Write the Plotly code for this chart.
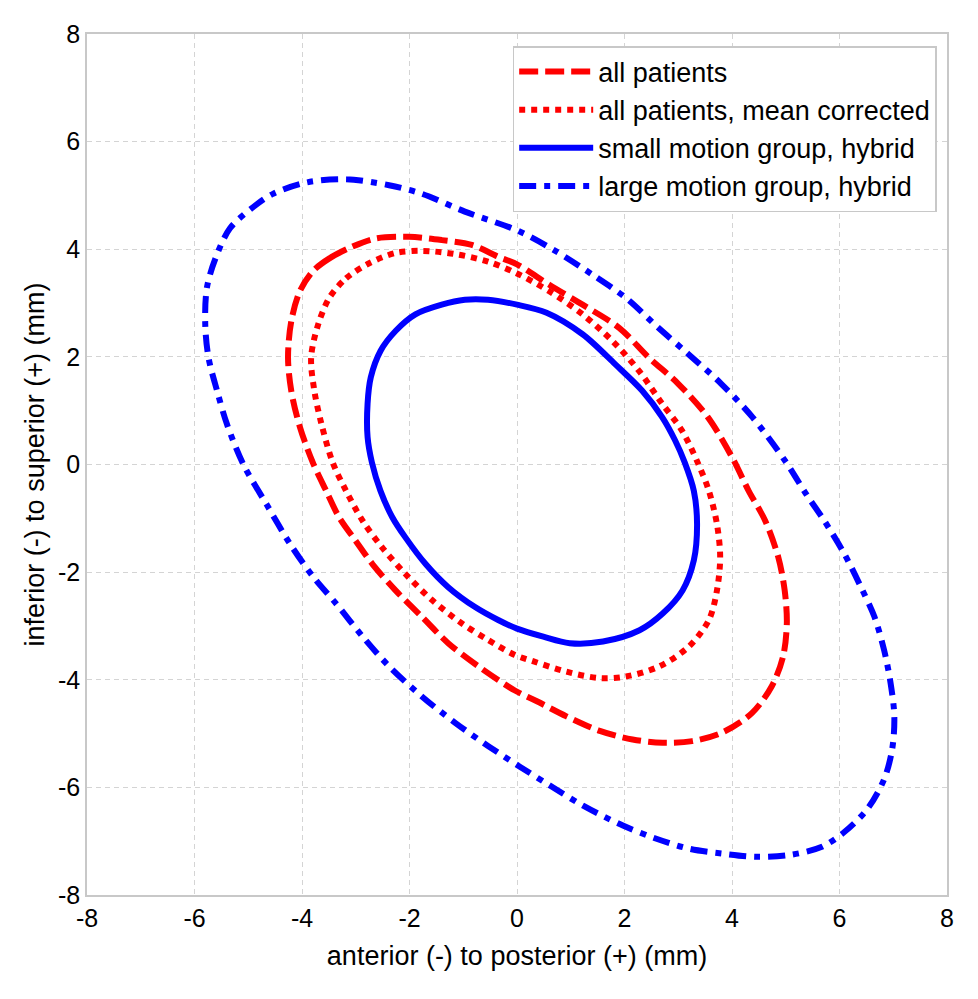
import plotly.graph_objects as go

# ---- data (mm) ----
all_x = [-3.80, -3.49, -3.06, -2.63, -2.01, -1.40, -0.84, -0.35, 0.00, 0.60, 1.22, 1.90, 2.45, 3.00, 3.55, 4.02,
         4.31, 4.62, 4.86, 4.98, 5.02, 4.95, 4.74, 4.37, 3.82, 3.26, 2.71, 2.15, 1.54, 0.92, 0.37, -0.04,
         -0.72, -1.28, -1.77, -2.26, -2.69, -3.00, -3.31, -3.55, -3.80, -4.04, -4.20, -4.26, -4.20, -4.04, -3.80]
all_y = [3.59, 3.83, 4.05, 4.20, 4.23, 4.17, 4.08, 3.86, 3.72, 3.34, 2.97, 2.54, 1.99, 1.50, 0.88, 0.10,
         -0.49, -1.05, -1.72, -2.34, -2.95, -3.57, -4.12, -4.62, -4.98, -5.14, -5.17, -5.11, -4.95, -4.68, -4.40, -4.20,
         -3.75, -3.32, -2.83, -2.34, -1.85, -1.42, -0.98, -0.49, 0.04, 0.70, 1.37, 1.99, 2.66, 3.22, 3.59]

mc_x = [-3.49, -3.18, -2.75, -2.26, -1.77, -1.15, -0.54, 0.00, 0.60, 1.22, 1.77, 2.27, 2.70, 3.07, 3.36,
        3.57, 3.72, 3.78, 3.72, 3.57, 3.20, 2.65, 2.03, 1.54, 0.92, 0.31, -0.04,
        -0.54, -1.03, -1.58, -2.08, -2.51, -2.87, -3.18, -3.43, -3.64, -3.77, -3.83, -3.70, -3.49]
mc_y = [3.10, 3.46, 3.74, 3.93, 3.97, 3.91, 3.77, 3.55, 3.22, 2.79, 2.30, 1.74, 1.13, 0.63, 0.04,
        -0.49, -1.11, -1.72, -2.34, -2.89, -3.38, -3.75, -3.94, -3.97, -3.85, -3.66, -3.54,
        -3.26, -2.95, -2.52, -2.03, -1.54, -1.05, -0.49, 0.04, 0.76, 1.37, 1.99, 2.60, 3.10]

small_x = [-2.54, -2.26, -1.89, -1.40, -0.97, -0.54, 0.00, 0.55, 1.22, 1.83, 2.33, 2.70, 2.94, 3.12,
           3.29, 3.35, 3.29, 3.08, 2.71, 2.28, 1.60, 0.98, 0.49, 0.00,
           -0.35, -0.78, -1.28, -1.70, -2.08, -2.32, -2.54, -2.70, -2.78, -2.78, -2.72, -2.54]
small_y = [2.11, 2.48, 2.79, 2.97, 3.06, 3.06, 2.97, 2.82, 2.42, 1.86, 1.37, 0.88, 0.45, 0.04,
           -0.49, -1.11, -1.78, -2.34, -2.77, -3.08, -3.29, -3.32, -3.20, -3.05,
           -2.89, -2.65, -2.28, -1.85, -1.35, -0.98, -0.49, 0.04, 0.51, 1.13, 1.62, 2.11]

large_x = [-3.92, -3.18, -2.38, -1.77, -0.97, 0.05, 0.73, 1.40, 2.02, 2.63, 3.19, 3.80, 4.38, 5.00,
           5.38, 5.72, 6.09, 6.40, 6.65, 6.83, 6.95, 7.02, 6.98, 6.83, 6.52, 6.09, 5.66, 5.05, 4.43,
           3.82, 3.20, 2.58, 1.97, 1.23, 0.62, 0.06, -0.54, -1.15, -1.77, -2.38, -2.87, -3.37, -3.79,
           -4.22, -4.66, -5.09, -5.40, -5.58, -5.74, -5.80, -5.77, -5.61, -5.34, -4.90, -4.54, -3.92]
large_y = [5.24, 5.30, 5.19, 5.03, 4.70, 4.33, 3.96, 3.53, 3.10, 2.54, 2.05, 1.50, 0.88, 0.05,
           -0.55, -1.05, -1.66, -2.28, -2.83, -3.45, -4.06, -4.68, -5.29, -5.85, -6.40, -6.83, -7.11, -7.26, -7.29,
           -7.23, -7.14, -6.95, -6.71, -6.34, -5.97, -5.62, -5.23, -4.80, -4.31, -3.75, -3.20, -2.58, -2.09,
           -1.48, -0.74, 0.00, 0.76, 1.37, 1.99, 2.60, 3.28, 3.83, 4.39, 4.79, 5.03, 5.24]

series_names = ["all patients", "all patients, mean corrected",
                "small motion group, hybrid", "large motion group, hybrid"]
tick_vals = [-8, -6, -4, -2, 0, 2, 4, 6, 8]

FONT = "Liberation Sans, Arial, sans-serif"
LW = 6
SM = 0.9

fig = go.Figure()
fig.add_trace(go.Scatter(x=all_x, y=all_y, mode="lines", name=series_names[0],
                         line=dict(color="#ff0000", width=LW, dash="19px,7px", shape="spline", smoothing=SM)))
fig.add_trace(go.Scatter(x=mc_x, y=mc_y, mode="lines", name=series_names[1],
                         line=dict(color="#ff0000", width=LW, dash="6px,6px", shape="spline", smoothing=SM)))
fig.add_trace(go.Scatter(x=small_x, y=small_y, mode="lines", name=series_names[2],
                         line=dict(color="#0000ff", width=LW, dash="solid", shape="spline", smoothing=SM)))
fig.add_trace(go.Scatter(x=large_x, y=large_y, mode="lines", name=series_names[3],
                         line=dict(color="#0000ff", width=LW, dash="17px,8px,6px,8px", shape="spline", smoothing=SM)))

axis_common = dict(
    range=[-8, 8], tickvals=tick_vals, ticktext=[str(v) for v in tick_vals],
    showgrid=True, gridcolor="#d4d4d4", gridwidth=1, griddash="5px,4px",
    zeroline=False, showline=True, linecolor="#c8c8c8", linewidth=1.5, mirror=True,
    ticks="", tickfont=dict(family=FONT, size=25, color="black"),
)

# the page body adds an 8px offset, so the figure is 8px smaller than the window
fig.update_layout(
    width=970, height=991,
    margin=dict(l=79, r=31, t=26, b=104),
    paper_bgcolor="white", plot_bgcolor="white",
    font=dict(family=FONT, color="black"),
    xaxis=dict(axis_common, title=dict(text="anterior (-) to posterior (+) (mm)",
                                        font=dict(family=FONT, size=27), standoff=15)),
    yaxis=dict(axis_common, title=dict(text="inferior (-) to superior (+) (mm)",
                                        font=dict(family=FONT, size=27), standoff=6)),
    legend=dict(x=0.988, y=0.986, xanchor="right", yanchor="top",
                bgcolor="white", bordercolor="#c8c8c8", borderwidth=1.5,
                font=dict(family=FONT, size=27), itemwidth=74, tracegroupgap=0),
    showlegend=True,
)

fig.write_html("out.html")
